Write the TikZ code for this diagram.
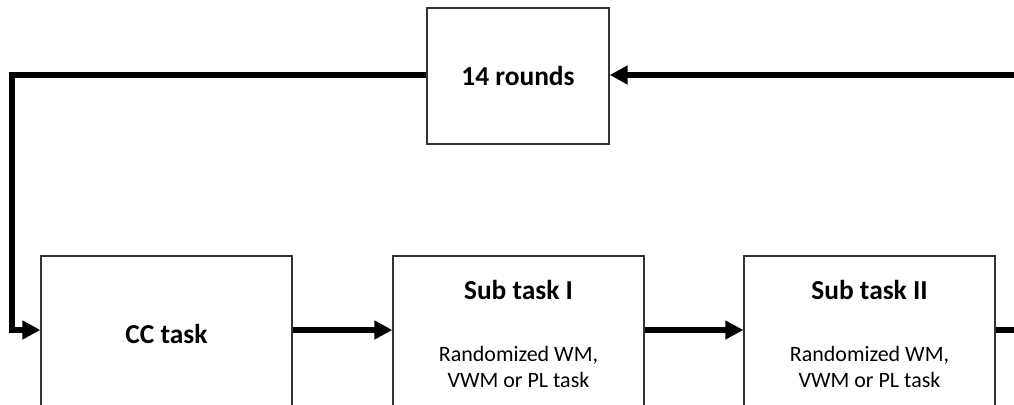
\documentclass[tikz,border=0pt]{standalone}
\usepackage{fontspec}
\setmainfont{Carlito}
\usetikzlibrary{arrows.meta}

\newcommand{\tasktitle}[1]{{\fontsize{15.6pt}{18pt}\selectfont\bfseries #1}}

\begin{document}
\begin{tikzpicture}[x=0.02cm, y=0.02cm,
	taskbox/.style={draw=black!80, line width=0.75pt, minimum width=5.02cm, minimum height=3.12cm, inner sep=0pt, align=center, font=\fontsize{12.5pt}{14.8pt}\selectfont},
	flow/.style={line width=2.9pt, -{Triangle[length=0.36cm, width=0.36cm]}}]
	\useasboundingbox (0,0) rectangle (1014,405);
	\clip (0,0) rectangle (1014,405);

	\node[taskbox, minimum width=3.64cm, minimum height=2.72cm] (rounds) at (518,329) {\tasktitle{14 rounds}};
	\node[taskbox] (cc) at (166.5,71) {\tasktitle{CC task}};
	\node[taskbox] (sub1) at (518.5,71) {\tasktitle{Sub task I}\\[21pt]Randomized WM,\\VWM or PL task};
	\node[taskbox] (sub2) at (869.5,71) {\tasktitle{Sub task II}\\[21pt]Randomized WM,\\VWM or PL task};

	\coordinate (row) at (0,75);
	\coordinate (bend) at (12,330);
	\coordinate (exit) at (1040,75);
	\coordinate (back) at (1040,330);

	\draw[flow] (back) -- (rounds.east |- back);
	\draw[flow] (rounds.west |- back) -- (bend) |- (cc.west |- row);
	\draw[flow] (cc.east |- row) -- (sub1.west |- row);
	\draw[flow] (sub1.east |- row) -- (sub2.west |- row);
	\draw[flow] (sub2.east |- row) -- (exit);

\end{tikzpicture}
\end{document}
